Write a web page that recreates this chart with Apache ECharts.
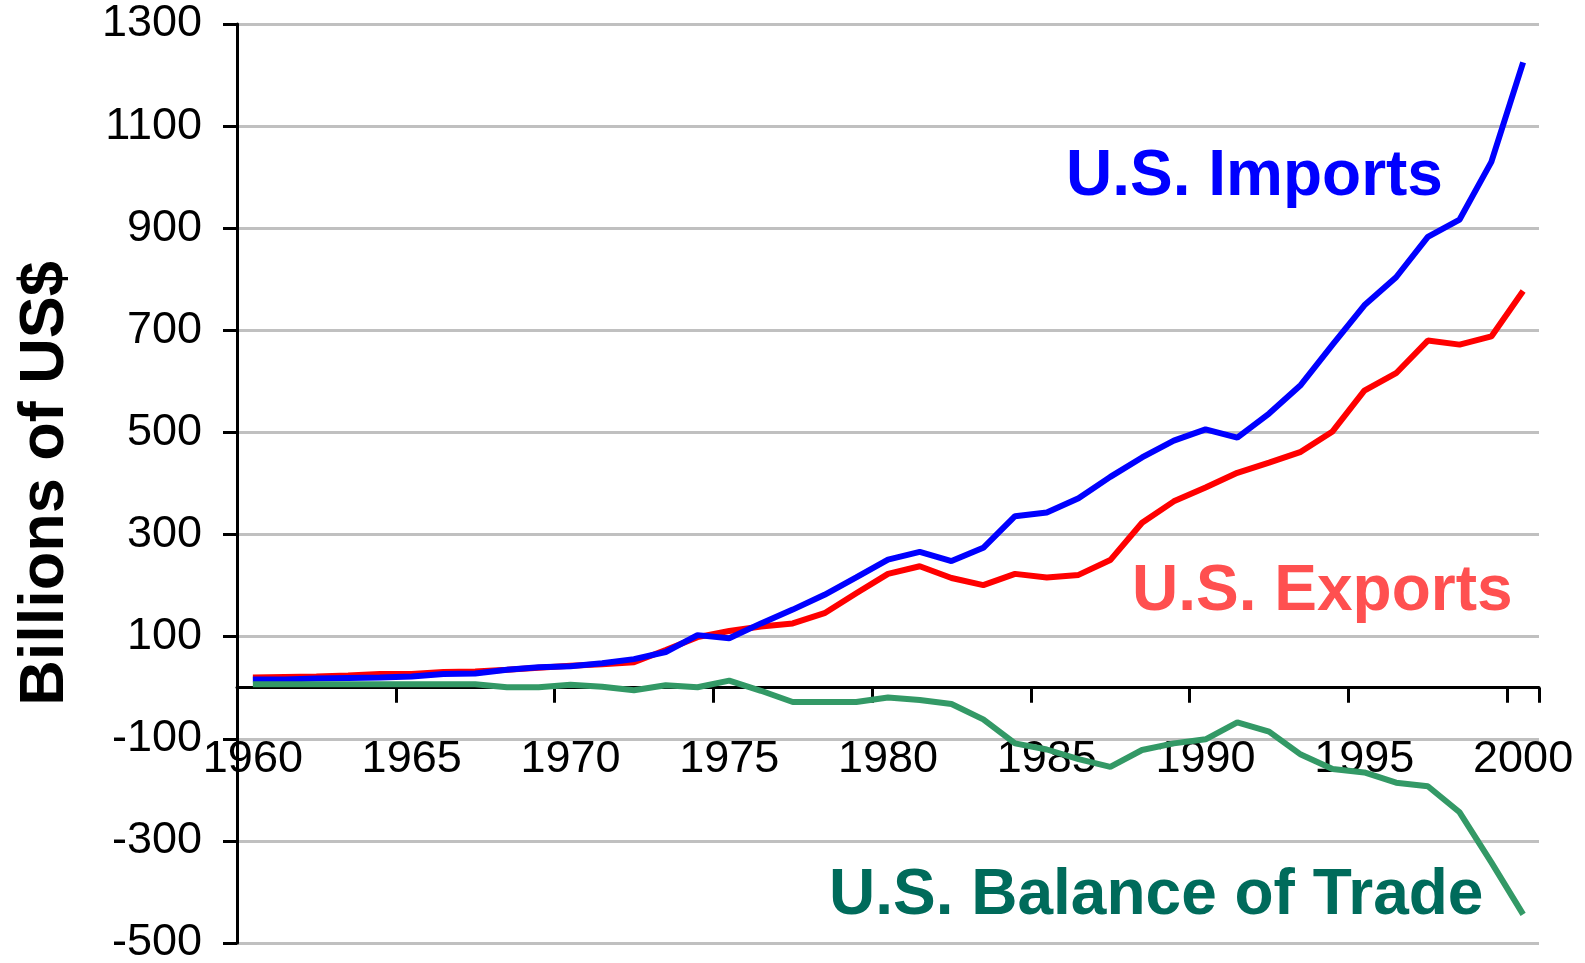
<!DOCTYPE html>
<html>
<head>
<meta charset="utf-8">
<script src="https://cdn.jsdelivr.net/npm/echarts@6/dist/echarts.min.js"></script>
<style>
  html, body { margin: 0; padding: 0; background: #fff; }
  #main { width: 1585px; height: 963px; }
</style>
</head>
<body>
<div id="main"></div>
<script>
  // years 1960 .. 2000
  var years = []
  for (var y = 1960; y <= 2000; y++) years.push(String(y))

  // billions of US$
  var exportsData = [
    20, 21, 22, 24, 27, 27, 31, 32, 35, 39,
    43, 46, 50, 74, 99, 111, 120, 126, 146, 185,
    223, 238, 215, 201, 223, 216, 221, 250, 323, 365,
    392, 421, 441, 462, 502, 582, 616, 680, 672, 688,
    777
  ]
  var importsData = [
    16, 16, 18, 19, 20, 22, 27, 28, 35, 40,
    42, 48, 56, 70, 103, 97, 126, 153, 182, 216,
    251, 266, 248, 274, 336, 343, 371, 413, 451, 484,
    506, 490, 537, 593, 672, 749, 804, 883, 917, 1030,
    1225
  ]
  var balanceData = [
    7, 7, 7, 7, 7, 7, 7, 7, 1, 1,
    6, 2, -5, 5, 1, 14, -6, -28, -28, -28,
    -19, -24, -32, -62, -109, -121, -140, -155, -122, -109,
    -101, -68, -86, -131, -159, -166, -186, -193, -244, -342,
    -444
  ]

  var yMin = -500
  var yMax = 1300
  var yStep = 200

  var font = '"Liberation Sans", Arial, sans-serif'
  var chart = echarts.init(document.getElementById('main'))

  var option = {
    animation: false,
    grid: { left: 237, right: 46, top: 24, bottom: 20, outerBoundsMode: 'none', containLabel: false },
    xAxis: {
      type: 'category',
      data: years,
      boundaryGap: true,
      offset: 0,
      axisLine: { onZero: false, lineStyle: { color: '#000', width: 3 } },
      axisTick: { show: true, interval: 4, length: 15, lineStyle: { color: '#000', width: 3 } },
      axisLabel: {
        interval: 4,
        margin: 49,
        color: '#000',
        fontSize: 45,
        fontFamily: font
      },
      splitLine: { show: false }
    },
    yAxis: {
      type: 'value',
      min: yMin,
      max: yMax,
      interval: yStep,
      name: 'Billions of US$',
      nameLocation: 'middle',
      nameRotate: 90,
      nameGap: 160,
      nameTextStyle: { color: '#000', fontSize: 63, fontWeight: 'bold', fontFamily: font },
      axisLine: { show: true, lineStyle: { color: '#000', width: 3 } },
      axisTick: { show: true, length: 14, lineStyle: { color: '#000', width: 3 } },
      axisLabel: {
        margin: 35, color: '#000', fontSize: 45, fontFamily: font,
        formatter: function (v) { return String(v) }
      },
      splitLine: { show: true, lineStyle: { color: '#c0c0c0', width: 3 } }
    },
    series: [
      {
        name: 'U.S. Exports',
        type: 'line',
        data: exportsData,
        showSymbol: false,
        lineStyle: { color: '#ff0000', width: 6 },
        itemStyle: { color: '#ff0000' }
      },
      {
        name: 'U.S. Imports',
        type: 'line',
        data: importsData,
        showSymbol: false,
        lineStyle: { color: '#0000ff', width: 6 },
        itemStyle: { color: '#0000ff' }
      },
      {
        name: 'U.S. Balance of Trade',
        type: 'line',
        data: balanceData,
        showSymbol: false,
        lineStyle: { color: '#339966', width: 6 },
        itemStyle: { color: '#339966' }
      }
    ],
    graphic: [
      {
        type: 'text', left: 1066, top: 145, z: 10,
        style: { text: 'U.S. Imports', fill: '#0000ff', font: 'bold 64px ' + font }
      },
      {
        type: 'text', left: 1132, top: 560, z: 10,
        style: { text: 'U.S. Exports', fill: '#ff5050', font: 'bold 64px ' + font }
      },
      {
        type: 'text', left: 829, top: 864, z: 10,
        style: { text: 'U.S. Balance of Trade', fill: '#006b5b', font: 'bold 64px ' + font }
      }
    ]
  }

  chart.setOption(option)

  // move the category axis (line, ticks and labels) up to the y = 0 line
  var zeroY = chart.convertToPixel({ yAxisIndex: 0 }, 0)
  var bottomY = chart.convertToPixel({ yAxisIndex: 0 }, yMin)
  chart.setOption({ xAxis: { offset: zeroY - bottomY } })
</script>
</body>
</html>
